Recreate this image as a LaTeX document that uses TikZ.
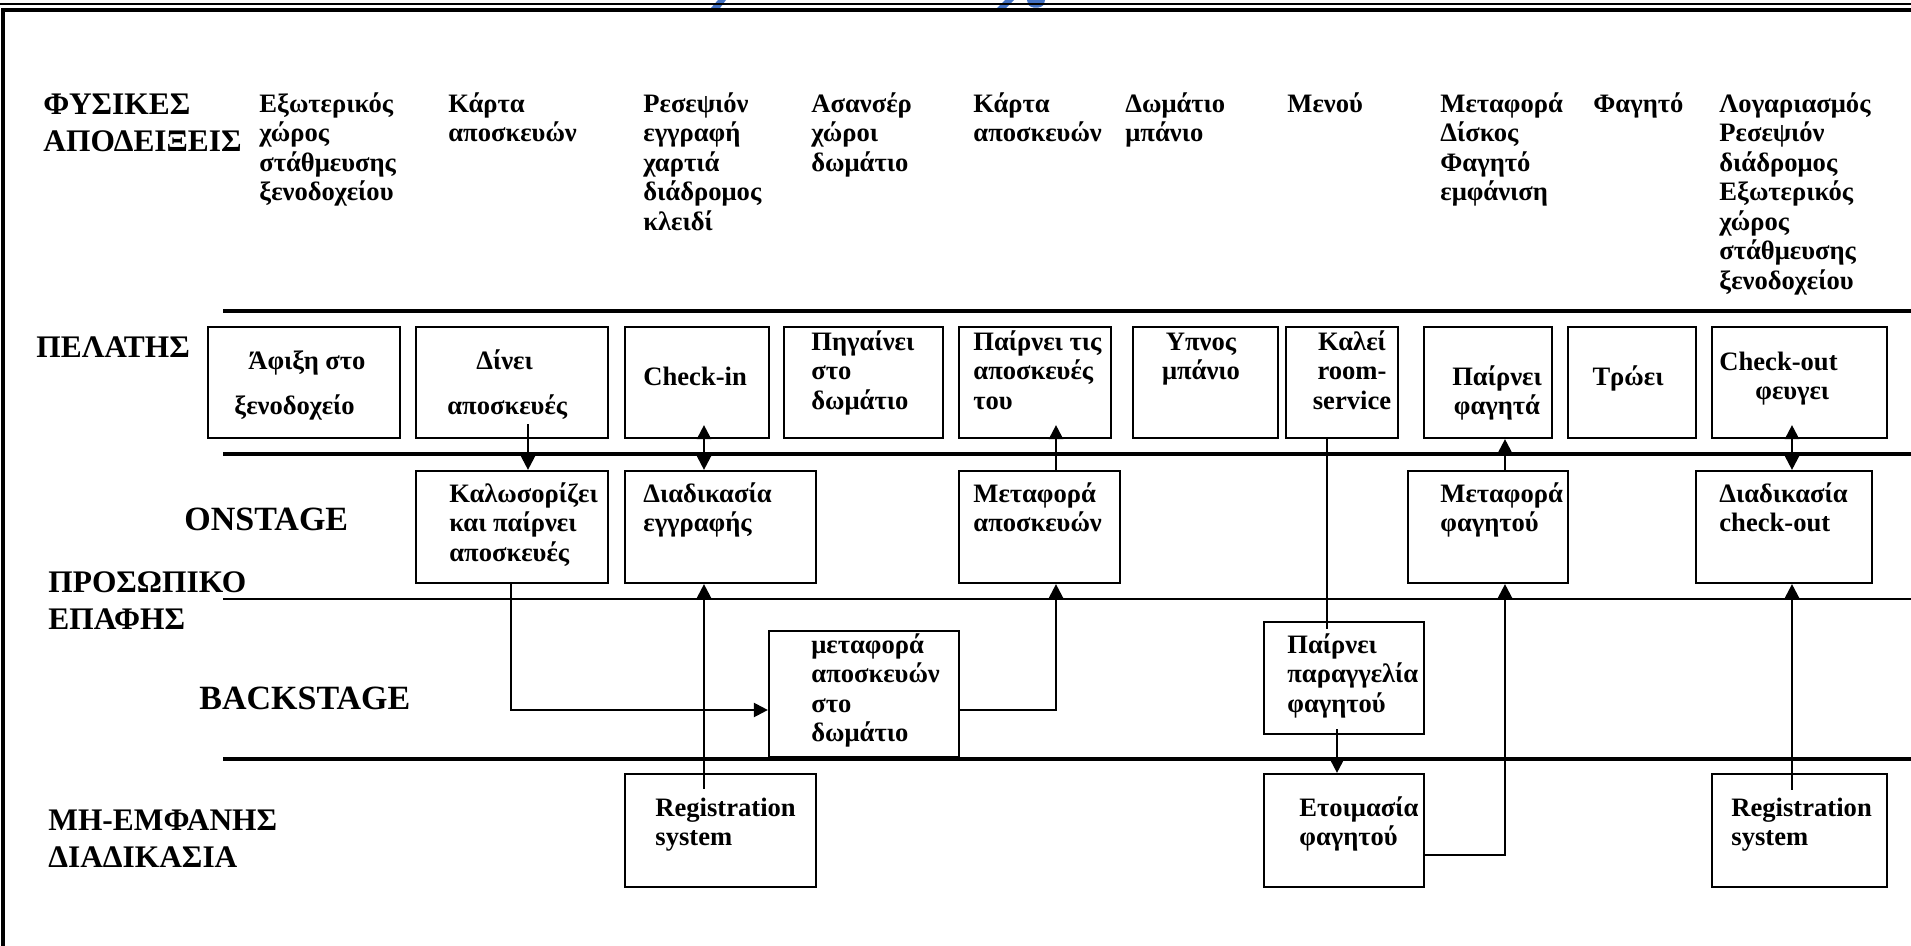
\documentclass[tikz,border=0pt]{standalone}
\usepackage{fontspec}
\setmainfont{Liberation Serif}
\usetikzlibrary{arrows.meta}
\newcommand\bodyfont{\fontsize{13.3pt}{14.75pt}\selectfont\bfseries}
\newcommand\headfont{\fontsize{15.7pt}{18.5pt}\selectfont\bfseries}
\newcommand\bigfont{\fontsize{17pt}{20pt}\selectfont\bfseries}
\newcommand\bst{\rule{0pt}{13pt}}
\newcommand\hst{\rule{0pt}{15pt}}
\newcommand\gst{\rule{0pt}{16pt}}
\newcommand\drawbox[5]{\node[boxst,minimum width={(#4-#2)*0.5pt},minimum height={(#5-#3)*0.5pt}] (#1) at ({(#2+#4)/2},{(#3+#5)/2}) {};}
\definecolor{fragblue}{RGB}{68,114,196}
\begin{document}
\begin{tikzpicture}[x=0.5pt,y=-0.5pt,
  boxst/.style={draw, line width=1.1pt, inner sep=0pt},
  txt/.style={anchor=north west, inner sep=0pt, align=left, font=\bodyfont},
  ctxt/.style={anchor=north, inner sep=0pt, align=center, font=\bodyfont},
  hd/.style={anchor=north west, inner sep=0pt, align=left, font=\headfont},
  bg/.style={anchor=north west, inner sep=0pt, font=\bigfont},
  lane/.style={line width=2.1pt},
  thinlane/.style={line width=1pt},
  conn/.style={line width=1.1pt},
  arr/.style={conn, -{Triangle[length=7pt,width=7pt]}},
  darr/.style={conn, {Triangle[length=7pt,width=7pt]}-{Triangle[length=7pt,width=7pt]}}]
\useasboundingbox (0,0) rectangle (1911,946);

% cut-off blue fragments at top
\fill[fragblue] (718,0) -- (726,0) -- (720,8) -- (711,8) -- cycle;
\fill[fragblue] (1005,0) -- (1014,0) -- (1006,8) -- (997,8) -- cycle;
\fill[fragblue] (1027,0) -- (1045,0) -- (1044,4) .. controls (1042,9) and (1030,9) .. (1028,4) -- cycle;

% frame
\draw[line width=1.3pt] (0,4) -- (1911,4);
\draw[line width=1.6pt] (3,946) -- (3,10) -- (1911,10);

% lanes
\draw[lane] (223,311) -- (1911,311);
\draw[lane] (223,454) -- (1911,454);
\draw[thinlane] (223,599) -- (1911,599);
\draw[lane] (223,759) -- (1911,759);

% left headers
\node[hd] (hphys) at (43,84) {\hst ΦΥΣΙΚΕΣ\\ΑΠΟΔΕΙΞΕΙΣ};
\node[hd] (hcust) at (36,327) {\hst ΠΕΛΑΤΗΣ};
\node[bg] (hon) at (184,498) {\gst ONSTAGE};
\node[hd] (hpers) at (48,562) {\hst ΠΡΟΣΩΠΙΚΟ\\ΕΠΑΦΗΣ};
\node[bg] (hback) at (199,677) {\gst BACKSTAGE};
\node[hd] (hinv) at (48,800) {\hst ΜΗ-ΕΜΦΑΝΗΣ\\ΔΙΑΔΙΚΑΣΙΑ};

% physical evidence row
\node[txt] (p1) at (259,86) {\bst Εξωτερικός\\χώρος\\στάθμευσης\\ξενοδοχείου};
\node[txt] (p2) at (448,86) {\bst Κάρτα\\αποσκευών};
\node[txt] (p3) at (643,86) {\bst Ρεσεψιόν\\εγγραφή\\χαρτιά\\διάδρομος\\κλειδί};
\node[txt] (p4) at (811,86) {\bst Ασανσέρ\\χώροι\\δωμάτιο};
\node[txt] (p5) at (973,86) {\bst Κάρτα\\αποσκευών};
\node[txt] (p6) at (1125,86) {\bst Δωμάτιο\\μπάνιο};
\node[txt] (p7) at (1287,86) {\bst Μενού};
\node[txt] (p8) at (1440,86) {\bst Μεταφορά\\Δίσκος\\Φαγητό\\εμφάνιση};
\node[txt] (p9) at (1593,86) {\bst Φαγητό};
\node[txt] (p10) at (1719,86) {\bst Λογαριασμός\\Ρεσεψιόν\\διάδρομος\\Εξωτερικός\\χώρος\\στάθμευσης\\ξενοδοχείου};

% customer row boxes
\drawbox{afixi}{208}{327}{400}{438}
\drawbox{dine}{416}{327}{608}{438}
\drawbox{checkin}{625}{327}{769}{438}
\drawbox{pigainei}{784}{327}{943}{438}
\drawbox{ptis}{959}{327}{1111}{438}
\drawbox{ypnos}{1133}{327}{1278}{438}
\drawbox{kalei}{1286}{327}{1398}{438}
\drawbox{pfag}{1424}{327}{1552}{438}
\drawbox{troei}{1568}{327}{1696}{438}
\drawbox{chout}{1712}{327}{1887}{438}

\node[txt] (ta1) at (248,343) {\bst Άφιξη στο};
\node[txt] (ta2) at (234,388) {\bst ξενοδοχείο};
\node[txt] (td1) at (476,343) {\bst Δίνει};
\node[txt] (td2) at (447,388) {\bst αποσκευές};
\node[txt] (tci) at (643,359) {\bst Check-in};
\node[txt] (tpg) at (811,324) {\bst Πηγαίνει\\στο\\δωμάτιο};
\node[txt] (tpt) at (973,324) {\bst Παίρνει τις\\αποσκευές\\του};
\node[ctxt] (typ) at (1201,324) {\bst Υπνος\\μπάνιο};
\node[ctxt] (tkl) at (1352,324) {\bst Καλεί\\room-\\service};
\node[ctxt] (tpf) at (1497,359) {\bst Παίρνει\\φαγητά};
\node[ctxt] (ttr) at (1628,359) {\bst Τρώει};
\node[txt] (tco1) at (1719,344) {\bst Check-out};
\node[txt] (tco2) at (1755,373) {\bst φευγει};

% onstage boxes
\drawbox{kalos}{416}{471}{608}{583}
\drawbox{diad}{625}{471}{816}{583}
\drawbox{metaApo}{959}{471}{1120}{583}
\drawbox{metaFag}{1408}{471}{1568}{583}
\drawbox{diadCO}{1696}{471}{1872}{583}

\node[txt] (tk) at (449,476) {\bst Καλωσορίζει\\και παίρνει\\αποσκευές};
\node[txt] (tde) at (643,476) {\bst Διαδικασία\\εγγραφής};
\node[txt] (tma) at (973,476) {\bst Μεταφορά\\αποσκευών};
\node[txt] (tmf) at (1440,476) {\bst Μεταφορά\\φαγητού};
\node[txt] (tdc) at (1719,476) {\bst Διαδικασία\\check-out};

% backstage boxes
\drawbox{metaf}{769}{631}{959}{757}
\drawbox{pparag}{1264}{622}{1424}{734}
\node[txt] (tmf2) at (811,627) {\bst μεταφορά\\αποσκευών\\στο\\δωμάτιο};
\node[txt] (tpp) at (1287,627) {\bst Παίρνει\\παραγγελία\\φαγητού};

% invisible process boxes
\drawbox{reg1}{625}{774}{816}{887}
\drawbox{etoim}{1264}{774}{1424}{887}
\drawbox{reg2}{1712}{774}{1887}{887}
\node[txt] (tr1) at (655,790) {\bst Registration\\system};
\node[txt] (tet) at (1299,790) {\bst Ετοιμασία\\φαγητού};
\node[txt] (tr2) at (1731,790) {\bst Registration\\system};

% connectors
\draw[arr] ([xshift=8pt,yshift=7.5pt]dine.south) -- ([xshift=8pt]kalos.north);
\draw[darr] ([xshift=3.5pt,yshift=7pt]checkin.south) -- ([xshift=-8.25pt]diad.north);
\draw[arr] ([xshift=-0.5pt]kalos.south) |- ([yshift=-8pt]metaf.west);
\draw[arr] ([yshift=-8pt]metaf.east) -| ([xshift=8.25pt]metaApo.south);
\draw[arr] ([xshift=8.25pt]metaApo.north) -- ([xshift=10.5pt,yshift=7pt]ptis.south);
\draw[arr] ([xshift=-8.25pt,yshift=-8pt]reg1.north) -- ([xshift=-8.25pt]diad.south);
\draw[conn] ([xshift=-7.5pt]kalei.south) -- ([xshift=-8.5pt,yshift=-4pt]pparag.north);
\draw[arr] ([xshift=-3.5pt,yshift=3pt]pparag.south) -- ([xshift=-3.5pt]etoim.north);
\draw[arr] ([yshift=-12.25pt]etoim.east) -| ([xshift=8.5pt]metaFag.south);
\draw[arr] ([xshift=8.5pt]metaFag.north) -- ([xshift=8.5pt]pfag.south);
\draw[darr] ([xshift=-3.75pt,yshift=7pt]chout.south) -- ([xshift=4pt]diadCO.north);
\draw[arr] ([xshift=-3.75pt,yshift=-8.5pt]reg2.north) -- ([xshift=4pt]diadCO.south);
\end{tikzpicture}
\end{document}
